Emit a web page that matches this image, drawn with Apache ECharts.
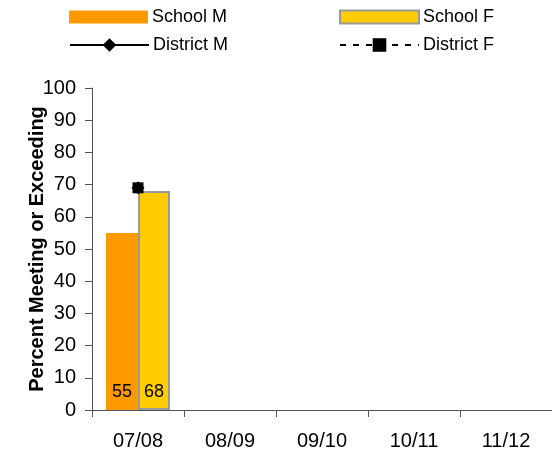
<!DOCTYPE html>
<html><head><meta charset="utf-8">
<script src="https://cdn.jsdelivr.net/npm/echarts@6/dist/echarts.min.js"></script>
<style>html,body{margin:0;padding:0;background:#fff}#c{width:552px;height:456px}</style>
</head><body><div id="c"></div>
<script>
var categories = ['07/08', '08/09', '09/10', '10/11', '11/12'];
var schoolM = [55, null, null, null, null];
var schoolF = [68, null, null, null, null];
var districtM = [69, null, null, null, null];
var districtF = [69, null, null, null, null];
var yTicks = [0, 100, 10];

var font = 'Liberation Sans, Arial, sans-serif';
var axisColor = '#555';
var chart = echarts.init(document.getElementById('c'));
function leg(name, left, top, h, icon) {
  var o = {data: [icon ? {name: name, icon: icon} : name], left: left, top: top, itemWidth: 79, itemHeight: h, itemGap: 0,
    padding: 0, selectedMode: false,
    textStyle: {fontFamily: font, fontSize: 18, color: '#000', padding: [0, 0, 0, -1]}};
  return o;
}
chart.setOption({
  animation: false,
  textStyle: {fontFamily: font},
  legend: [leg('School M', 69, 8, 13, 'rect'), leg('School F', 339, 8, 13, 'rect'),
           leg('District M', 69, 36, 17), leg('District F', 339, 36, 17)],
  grid: {left: 92, top: 88, bottom: 46, right: -3, containLabel: false},
  xAxis: {
    type: 'category', data: categories, boundaryGap: true,
    axisLine: {lineStyle: {color: axisColor, width: 1}},
    axisTick: {show: true, length: 7, alignWithLabel: false, lineStyle: {color: axisColor}},
    axisLabel: {fontSize: 20, color: '#000', margin: 21, fontFamily: font}
  },
  yAxis: {
    type: 'value', min: yTicks[0], max: yTicks[1], interval: yTicks[2],
    name: 'Percent Meeting or Exceeding', nameLocation: 'middle', nameGap: 45, nameRotate: 90,
    nameMoveOverlap: false,
    nameTextStyle: {fontSize: 20, fontWeight: 'bold', color: '#000', fontFamily: font},
    axisLine: {show: true, lineStyle: {color: axisColor, width: 1}},
    axisTick: {show: true, length: 7, inside: false, lineStyle: {color: axisColor}},
    splitLine: {show: false},
    axisLabel: {fontSize: 20, color: '#000', margin: 16, fontFamily: font}
  },
  series: [
    {name: 'School M', type: 'bar', data: schoolM, barWidth: 32, barGap: '0%',
      itemStyle: {color: '#FF9900'},
      label: {show: true, position: 'insideBottom', distance: 9, color: '#000', fontSize: 18, fontFamily: font}},
    {name: 'School F', type: 'bar', data: schoolF, barWidth: 32, barGap: '0%',
      itemStyle: {color: '#FFCC00', borderColor: '#999999', borderWidth: 2},
      label: {show: true, position: 'insideBottom', distance: 9, color: '#000', fontSize: 18, fontFamily: font}},
    {name: 'District M', type: 'line', data: districtM, symbol: 'diamond', symbolSize: 13,
      itemStyle: {color: '#000'}, lineStyle: {color: '#000', width: 2}},
    {name: 'District F', type: 'line', data: districtF, symbol: 'rect', symbolSize: 11,
      itemStyle: {color: '#000'}, lineStyle: {color: '#000', width: 2, type: [6, 7]}}
  ]
});
</script></body></html>
